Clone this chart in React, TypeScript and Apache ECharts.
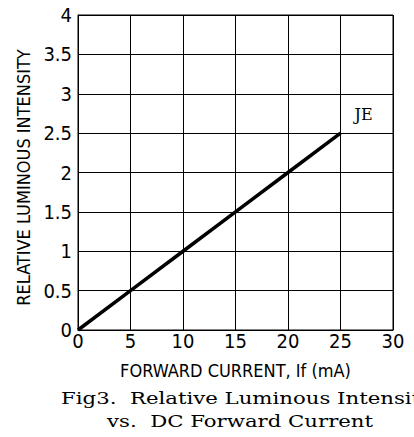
import React, { useEffect, useRef } from "react";
import * as echarts from "echarts";

const forwardCurrent = [0, 5, 10, 15, 20, 25];
const relativeIntensity = [0, 0.5, 1, 1.5, 2, 2.5];
const seriesName = "JE";
const xAxisTitle = "FORWARD CURRENT, If (mA)";
const yAxisTitle = "RELATIVE LUMINOUS INTENSITY";
const NB = "\u00A0";
const captionLine1 = `Fig3.${NB}${NB}Relative${NB}Luminous${NB}Intensity`;
const captionLine2 = `vs.${NB}${NB}DC${NB}Forward${NB}Current`;

const NARROW = "'DejaVu Sans Condensed', 'Liberation Sans Narrow', sans-serif";
const SERIF = "'DejaVu Serif', 'Liberation Serif', serif";

export default function App() {
  const ref = useRef<HTMLDivElement>(null);
  useEffect(() => {
    if (!ref.current) return;
    const chart = echarts.init(ref.current, undefined, { renderer: "svg" });
    const data = forwardCurrent.map((x, i) => [x, relativeIntensity[i]]);
    chart.setOption({
      animation: false,
      backgroundColor: "#fff",
      grid: {
        left: 78,
        top: 15,
        width: 315,
        height: 315,
        show: true,
        borderColor: "#000",
        borderWidth: 1,
        backgroundColor: "transparent",
      },
      xAxis: {
        type: "value",
        min: 0,
        max: 30,
        interval: 5,
        name: xAxisTitle,
        nameLocation: "middle",
        nameGap: 31,
        nameTextStyle: { fontFamily: NARROW, fontSize: 18, color: "#000" },
        axisLine: { show: true, lineStyle: { color: "#000", width: 1 } },
        axisTick: { show: false },
        axisLabel: { fontFamily: NARROW, fontSize: 20, color: "#000", margin: 1 },
        splitLine: { show: true, lineStyle: { color: "#000", width: 1 } },
      },
      yAxis: {
        type: "value",
        min: 0,
        max: 4,
        interval: 0.5,
        name: yAxisTitle,
        nameLocation: "middle",
        nameGap: 45,
        nameTextStyle: { fontFamily: NARROW, fontSize: 18, color: "#000", padding: [0, 10, 0, 0] },
        axisLine: { show: true, lineStyle: { color: "#000", width: 1 } },
        axisTick: { show: false },
        axisLabel: { fontFamily: NARROW, fontSize: 20, color: "#000", margin: 6 },
        splitLine: { show: true, lineStyle: { color: "#000", width: 1 } },
      },
      series: [
        {
          name: seriesName,
          type: "line",
          data,
          showSymbol: false,
          symbol: "none",
          lineStyle: { color: "#000", width: 3.5 },
          endLabel: {
            show: true,
            formatter: seriesName,
            distance: 0,
            offset: [14, -19],
            fontFamily: SERIF,
            fontSize: 16,
            color: "#000",
          },
          z: 5,
        },
      ],
      graphic: [
        {
          type: "text",
          x: 61,
          y: 398,
          scaleX: 1.25,
          style: {
            text: captionLine1,
            font: `17px ${SERIF}`,
            fill: "#000",
            verticalAlign: "middle",
            align: "left",
          },
        },
        {
          type: "text",
          x: 107,
          y: 421,
          scaleX: 1.25,
          style: {
            text: captionLine2,
            font: `17px ${SERIF}`,
            fill: "#000",
            verticalAlign: "middle",
            align: "left",
          },
        },
      ],
    });
    return () => chart.dispose();
  }, []);
  return (
    <div
      ref={ref}
      style={{ position: "fixed", left: 0, top: 0, width: 414, height: 437 }}
    />
  );
}
